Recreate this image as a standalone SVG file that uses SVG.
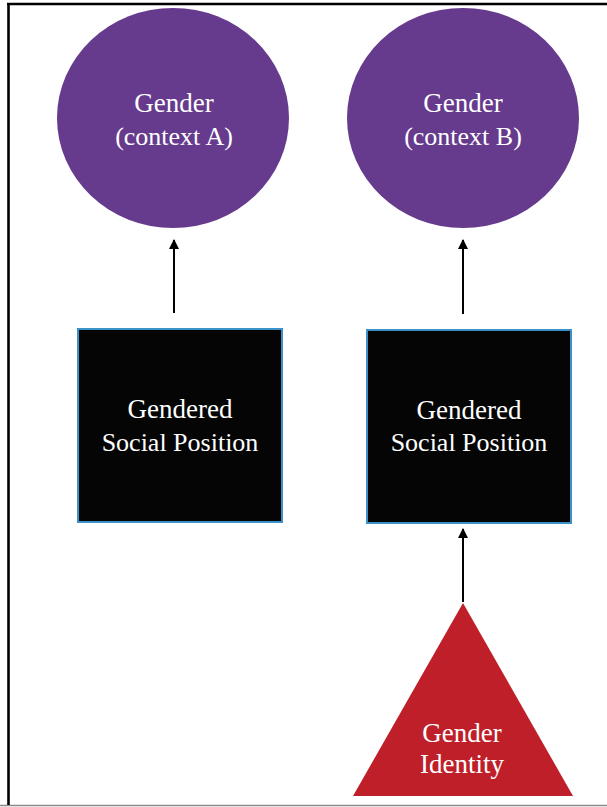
<svg xmlns="http://www.w3.org/2000/svg" width="607" height="807" viewBox="0 0 607 807">
  <style>
    .lbl { font-family: "Liberation Serif", "Times New Roman", serif; fill: #ffffff; text-anchor: middle; }
    .circ { fill: #663a8d; }
    .box { fill: #050505; stroke: #3b92c8; stroke-width: 2; }
    .tri { fill: #be1f28; }
    .conn { stroke: #000000; stroke-width: 2; fill: none; marker-end: url(#arr); }
  </style>
  <defs>
    <marker id="arr" viewBox="0 0 10 10" refX="9" refY="5" markerWidth="5" markerHeight="5" orient="auto" markerUnits="strokeWidth">
      <path d="M0,0 L10,5 L0,10 z" fill="#000000"/>
    </marker>
  </defs>
  <rect x="0" y="0" width="607" height="807" fill="#ffffff"/>
  <g id="frame">
    <line x1="0" y1="805.5" x2="607" y2="805.5" stroke="#8a8a8a" stroke-width="1.5"/>
    <line x1="8.5" y1="3" x2="8.5" y2="805" stroke="#000000" stroke-width="2.6"/>
    <line x1="7" y1="4" x2="607" y2="4" stroke="#000000" stroke-width="2.6"/>
  </g>
  <g id="connectors">
    <line class="conn" x1="174" y1="313" x2="174" y2="240"/>
    <line class="conn" x1="463" y1="314" x2="463" y2="240"/>
    <line class="conn" x1="463" y1="602" x2="463" y2="529"/>
  </g>
  <g id="gender-a">
    <ellipse class="circ" cx="173" cy="118" rx="116" ry="110"/>
    <text class="lbl" x="174" y="112" font-size="27">Gender</text>
    <text class="lbl" x="174" y="145" font-size="26">(context A)</text>
  </g>
  <g id="gender-b">
    <ellipse class="circ" cx="463" cy="118" rx="116" ry="110"/>
    <text class="lbl" x="463" y="112" font-size="27">Gender</text>
    <text class="lbl" x="463" y="145" font-size="26">(context B)</text>
  </g>
  <g id="position-a">
    <rect class="box" x="78" y="329" width="204" height="193"/>
    <text class="lbl" x="180" y="418" font-size="27">Gendered</text>
    <text class="lbl" x="180" y="451" font-size="26">Social Position</text>
  </g>
  <g id="position-b">
    <rect class="box" x="367" y="330" width="204" height="193"/>
    <text class="lbl" x="469" y="419" font-size="27">Gendered</text>
    <text class="lbl" x="469" y="451" font-size="26">Social Position</text>
  </g>
  <g id="identity">
    <polygon class="tri" points="463,603 573,796 353,796"/>
    <text class="lbl" x="462" y="742" font-size="27">Gender</text>
    <text class="lbl" x="462" y="773" font-size="27">Identity</text>
  </g>
</svg>
